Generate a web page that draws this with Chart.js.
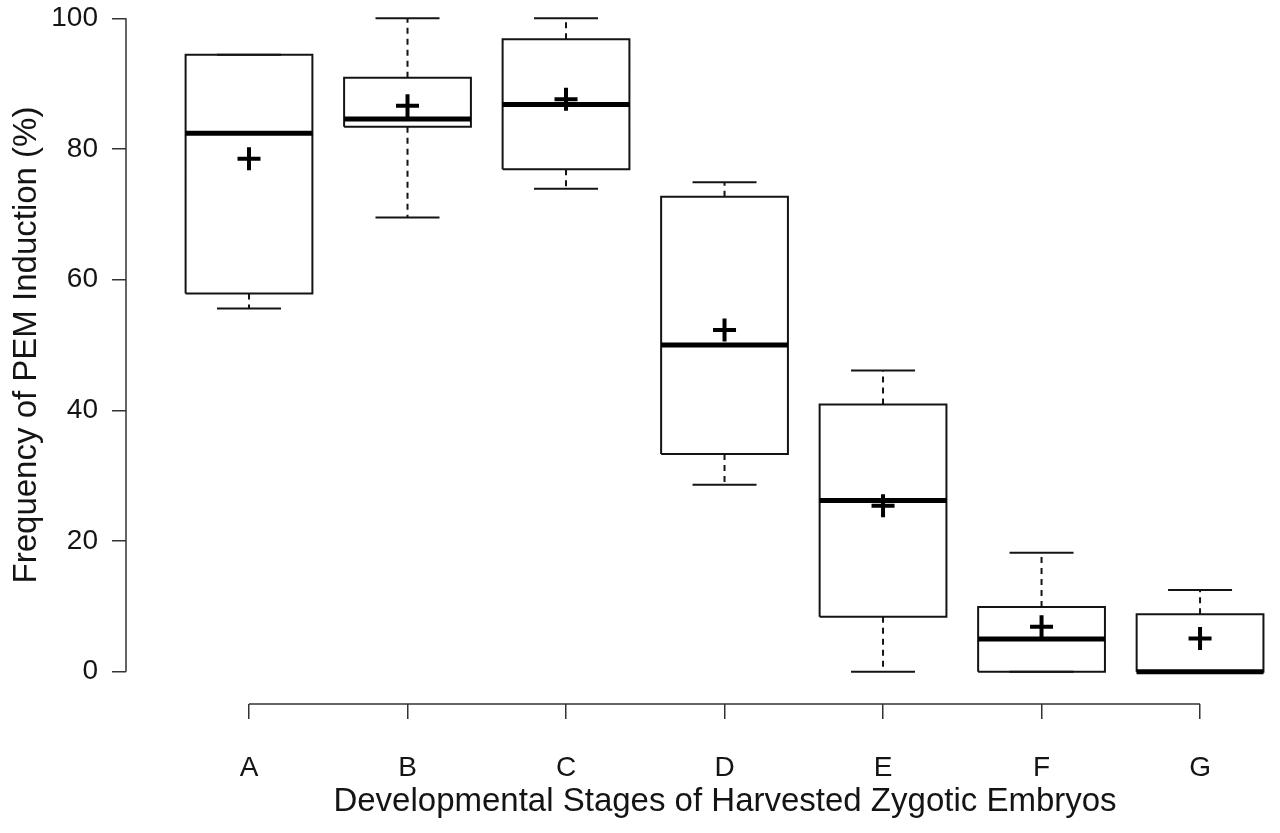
<!DOCTYPE html>
<html>
<head>
<meta charset="utf-8">
<script src="https://cdn.jsdelivr.net/npm/chart.js@4.4.1/dist/chart.umd.min.js"></script>
<style>
html,body{margin:0;padding:0;background:#fff;overflow:hidden;width:1280px;height:833px;}
#c{display:block;margin-top:-14px;}
</style>
</head>
<body>
<canvas id="c" width="1324" height="847"></canvas>
<script>
// ---- data ----
const categories  = ['A', 'B', 'C', 'D', 'E', 'F', 'G'];
const whiskerLow  = [55.6, 69.5, 73.9, 28.6, 0.0, 0.0, 0.0];
const q1          = [57.9, 83.4, 76.9, 33.3, 8.4, 0.0, 0.0];
const medians     = [82.4, 84.6, 86.8, 50.0, 26.2, 5.0, 0.0];
const q3          = [94.4, 90.9, 96.8, 72.7, 40.9, 9.9, 8.8];
const whiskerHigh = [94.4, 100.0, 100.0, 74.9, 46.1, 18.2, 12.5];
const means       = [78.5, 86.6, 87.6, 52.3, 25.4, 6.9, 5.1];
const yTicks      = [0, 20, 40, 60, 80, 100];

const xPos = categories.map((c, i) => i + 1);
const HALF = 0.4;            // half box width, in category units
const INK = '#141414';
const FONT = '"Liberation Sans", Arial, Helvetica, sans-serif';

const boxOutline = [];
const whiskerData = [];
const capData = [];
xPos.forEach((x, i) => {
  boxOutline.push(
    {x: x - HALF, y: q1[i]}, {x: x + HALF, y: q1[i]}, {x: x + HALF, y: q3[i]},
    {x: x - HALF, y: q3[i]}, {x: x - HALF, y: q1[i]}, {x: x, y: null});
  whiskerData.push({x: x, y: q3[i]}, {x: x, y: whiskerHigh[i]}, {x: x, y: null});
  whiskerData.push({x: x, y: q1[i]}, {x: x, y: whiskerLow[i]}, {x: x, y: null});
  capData.push({x: x, y: whiskerHigh[i]}, {x: x, y: whiskerLow[i]});
});
const medianData = xPos.map((x, i) => ({x: x, y: medians[i]}));
const meanData = xPos.map((x, i) => ({x: x, y: means[i]}));

const axisLines = {
  id: 'axisLines',
  afterDraw(chart) {
    const {ctx, chartArea, scales: {x, y}} = chart;
    ctx.save();
    ctx.strokeStyle = '#333';
    ctx.lineWidth = 1.5;
    ctx.beginPath();
    ctx.moveTo(chartArea.left, y.getPixelForValue(yTicks[0]));
    ctx.lineTo(chartArea.left, y.getPixelForValue(yTicks[yTicks.length - 1]));
    ctx.moveTo(x.getPixelForValue(xPos[0]), chartArea.bottom);
    ctx.lineTo(x.getPixelForValue(xPos[xPos.length - 1]), chartArea.bottom);
    ctx.stroke();
    ctx.restore();
  }
};

new Chart(document.getElementById('c'), {
  type: 'scatter',
  data: {
    datasets: [
      {
        data: boxOutline, order: 5, showLine: true, spanGaps: false,
        borderColor: INK, borderWidth: 2, pointRadius: 0, borderJoinStyle: 'miter', clip: false
      },
      {
        data: whiskerData, order: 4, showLine: true, spanGaps: false,
        borderColor: INK, borderWidth: 2, borderDash: [6, 5], pointRadius: 0, clip: false
      },
      {
        data: capData, order: 3, pointStyle: 'line', pointRadius: 32,
        borderColor: INK, borderWidth: 2, clip: false
      },
      {
        data: medianData, order: 2, pointStyle: 'line', pointRadius: 63.5,
        borderColor: '#000', borderWidth: 5, clip: false
      },
      {
        data: meanData, order: 1, pointStyle: 'cross', pointRadius: 11.5,
        borderColor: '#000', borderWidth: 4, clip: false
      }
    ]
  },
  options: {
    responsive: false,
    animation: false,
    events: [],
    layout: {autoPadding: false, padding: {top: 0, right: 0, bottom: 0, left: 0}},
    plugins: {legend: {display: false}, tooltip: {enabled: false}},
    scales: {
      x: {
        type: 'linear', position: 'bottom', offset: false,
        min: 0.224, max: 7.782, bounds: 'data',
        afterBuildTicks: (s) => { s.ticks = xPos.map(v => ({value: v})); },
        afterFit: (s) => { s.height = 129; s.paddingLeft = 0; s.paddingRight = 0; },
        grid: {offset: false, drawOnChartArea: false, drawTicks: true, tickLength: 15, color: '#333', lineWidth: 1.5},
        border: {display: false},
        ticks: {
          autoSkip: false, maxRotation: 0, padding: 32, color: INK,
          font: {family: FONT, size: 28},
          callback: (v, i) => categories[i]
        },
        title: {
          display: true, text: 'Developmental Stages of Harvested Zygotic Embryos',
          color: INK, font: {family: FONT, size: 33}, padding: {top: 0, bottom: 11}
        }
      },
      y: {
        type: 'linear', min: -4.94, max: 104.94,
        afterBuildTicks: (s) => { s.ticks = yTicks.map(v => ({value: v})); },
        afterFit: (s) => { s.width = 126; s.paddingTop = 0; s.paddingBottom = 0; },
        grid: {drawOnChartArea: false, drawTicks: true, tickLength: 14, color: '#333', lineWidth: 1.5},
        border: {display: false},
        ticks: {padding: 14, color: INK, font: {family: FONT, size: 28}},
        title: {
          display: true, text: 'Frequency of PEM Induction (%)',
          color: INK, font: {family: FONT, size: 33}, padding: {top: 7, bottom: 0}
        }
      }
    }
  },
  plugins: [axisLines]
});
</script>
</body>
</html>
